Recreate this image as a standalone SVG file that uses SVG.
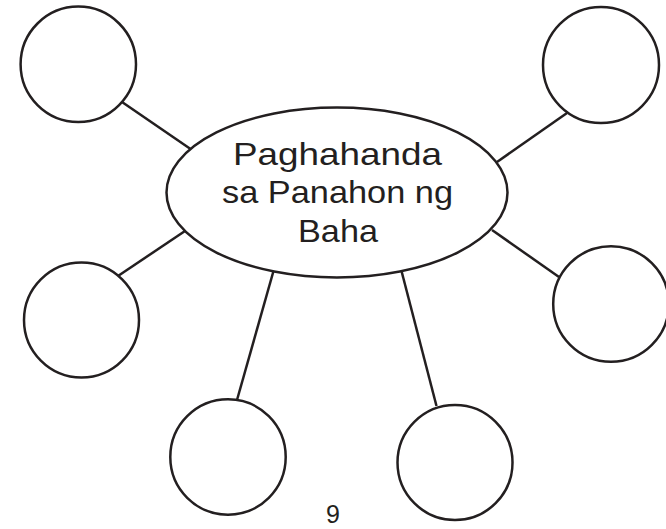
<svg xmlns="http://www.w3.org/2000/svg" width="666" height="529" viewBox="0 0 666 529">
<style>
.n{fill:#fff;stroke:#231f20;stroke-width:2.5}
.c line{stroke:#231f20;stroke-width:2.5}
.t{font-family:"Liberation Sans",Arial,sans-serif;fill:#231f20;text-anchor:middle}
</style>
<rect width="666" height="529" fill="#fff"/>
<g class="c" id="connectors">
<line x1="122" y1="102" x2="192" y2="150"/>
<line x1="567" y1="113" x2="497" y2="162"/>
<line x1="118" y1="276" x2="185" y2="231"/>
<line x1="492" y1="230" x2="559" y2="277"/>
<line x1="273.5" y1="271" x2="237" y2="400"/>
<line x1="401.5" y1="271" x2="436.5" y2="406"/>
</g>
<g id="center">
<ellipse class="n" cx="337" cy="192.5" rx="170.5" ry="85"/>
<text class="t" font-size="32" x="337.5" y="165" textLength="209" lengthAdjust="spacingAndGlyphs">Paghahanda</text>
<text class="t" font-size="32" x="337.5" y="203" textLength="231" lengthAdjust="spacingAndGlyphs">sa Panahon ng</text>
<text class="t" font-size="32" x="338" y="242" textLength="80" lengthAdjust="spacingAndGlyphs">Baha</text>
</g>
<g id="n1"><circle class="n" cx="78.3" cy="64.3" r="57.7"/></g>
<g id="n2"><circle class="n" cx="601" cy="65" r="58"/></g>
<g id="n3"><circle class="n" cx="81.5" cy="320" r="57.5"/></g>
<g id="n4"><circle class="n" cx="611" cy="304" r="57.8"/></g>
<g id="n5"><circle class="n" cx="228" cy="457" r="57.7"/></g>
<g id="n6"><circle class="n" cx="455" cy="462.5" r="57.5"/></g>
<text class="t" font-size="25" x="333" y="523">9</text>
</svg>
